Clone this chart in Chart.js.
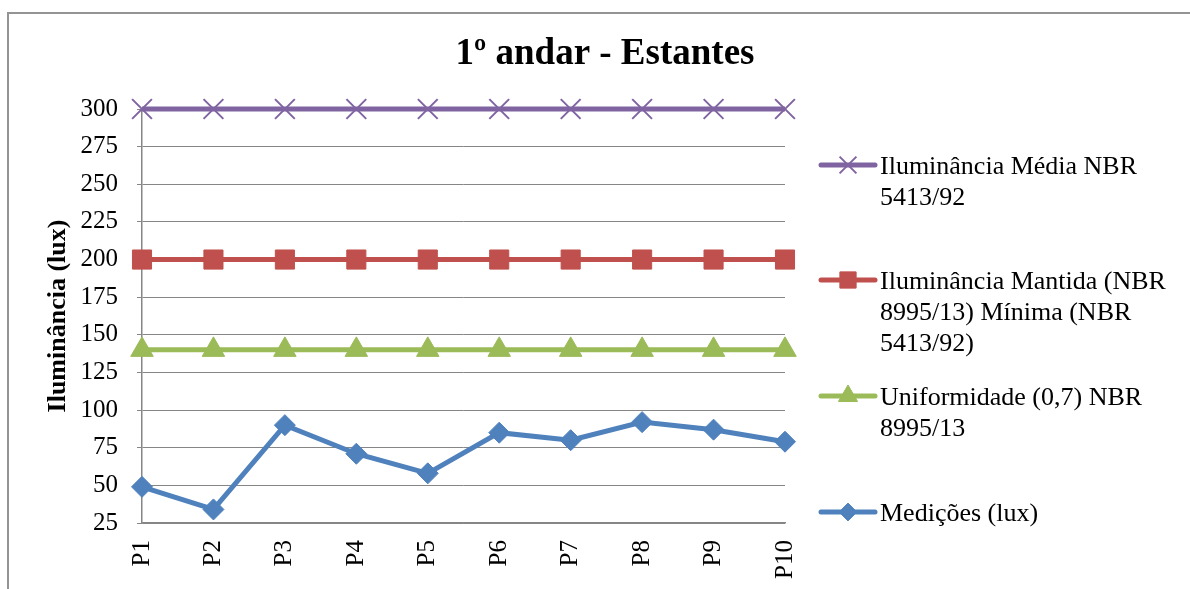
<!DOCTYPE html>
<html>
<head>
<meta charset="utf-8">
<script src="https://cdn.jsdelivr.net/npm/chart.js@4.4.0/dist/chart.umd.min.js"></script>
<style>
  html, body { margin: 0; padding: 0; background: #ffffff; }
  #wrap { position: relative; width: 1190px; height: 589px; overflow: hidden; }
  #frame { position: absolute; left: 7px; top: 12px; width: 1220px; height: 620px;
           border-top: 2px solid #949494; border-left: 2px solid #949494; }
  #c { position: absolute; left: 0; top: 0; }
</style>
</head>
<body>
<div id="wrap">
  <div id="frame"></div>
  <canvas id="c" width="1190" height="589"></canvas>
</div>
<script>
// Measurement points along the shelves
const categories = ['P1', 'P2', 'P3', 'P4', 'P5', 'P6', 'P7', 'P8', 'P9', 'P10'];

// Reference levels (lux)
const mediaNBR     = [300, 300, 300, 300, 300, 300, 300, 300, 300, 300];
const mantidaNBR   = [200, 200, 200, 200, 200, 200, 200, 200, 200, 200];
const uniformidade = [140, 140, 140, 140, 140, 140, 140, 140, 140, 140];

// Measured illuminance (lux)
const medicoes = [49, 34, 90, 71, 58, 85, 80, 92, 87, 79];

const seriesLabels = [
  'Iluminância Média NBR 5413/92',
  'Iluminância Mantida (NBR 8995/13) Mínima (NBR 5413/92)',
  'Uniformidade (0,7) NBR 8995/13',
  'Medições (lux)'
];

const chartTitle = '1º andar - Estantes';
const yAxisTitle = 'Iluminância (lux)';
const yMin = 25, yMax = 300, yStep = 25;

const serif = '"Liberation Serif", "Times New Roman", Times, serif';
Chart.defaults.font.family = serif;
Chart.defaults.color = '#000000';

function series(label, data, color, style, radius, border) {
  return {
    label: label,
    data: data,
    borderColor: color,
    backgroundColor: color,
    borderWidth: 5,
    pointStyle: style,
    pointRadius: radius,
    pointHoverRadius: radius,
    pointBackgroundColor: color,
    pointBorderColor: color,
    pointBorderWidth: border,
    tension: 0,
    clip: false
  };
}

// Legend drawn at the right side with wrapped label text
const sideLegend = {
  id: 'sideLegend',
  afterDraw(chart, args, opts) {
    const ctx = chart.ctx;
    ctx.save();
    chart.data.datasets.forEach((ds, i) => {
      const y = opts.rows[i];
      ctx.strokeStyle = ds.borderColor;
      ctx.lineWidth = ds.borderWidth;
      ctx.lineCap = 'round';
      ctx.beginPath();
      ctx.moveTo(opts.x0, y);
      ctx.lineTo(opts.x1, y);
      ctx.stroke();

      ctx.lineCap = 'butt';
      ctx.fillStyle = ds.pointBackgroundColor;
      ctx.strokeStyle = ds.pointBorderColor;
      ctx.lineWidth = ds.pointBorderWidth;
      Chart.helpers.drawPoint(ctx, {
        pointStyle: ds.pointStyle,
        radius: ds.pointRadius * opts.markerScale,
        borderWidth: ds.pointBorderWidth,
        rotation: 0
      }, (opts.x0 + opts.x1) / 2, y);

      ctx.fillStyle = '#000000';
      ctx.font = opts.fontSize + 'px ' + serif;
      ctx.textAlign = 'left';
      ctx.textBaseline = 'middle';
      const words = ds.label.split(' ');
      const lines = [];
      let cur = '';
      words.forEach(w => {
        const test = cur ? cur + ' ' + w : w;
        if (cur && ctx.measureText(test).width > opts.maxWidth) {
          lines.push(cur);
          cur = w;
        } else {
          cur = test;
        }
      });
      if (cur) lines.push(cur);
      lines.forEach((ln, k) => {
        ctx.fillText(ln, opts.textX, y + opts.textDy + k * opts.lineHeight);
      });
    });
    ctx.restore();
  }
};

new Chart(document.getElementById('c'), {
  type: 'line',
  data: {
    labels: categories,
    datasets: [
      series(seriesLabels[0], mediaNBR, '#8064A2', 'crossRot', 14, 2),
      series(seriesLabels[1], mantidaNBR, '#C0504D', 'rect', 13.5, 1),
      series(seriesLabels[2], uniformidade, '#9BBB59', 'triangle', 13, 1),
      series(seriesLabels[3], medicoes, '#4F81BD', 'rectRot', 10.5, 1)
    ]
  },
  plugins: [sideLegend],
  options: {
    responsive: false,
    animation: false,
    events: [],
    layout: { padding: { left: 30, right: 10, top: 14, bottom: 0 } },
    plugins: {
      legend: { display: false },
      tooltip: { enabled: false },
      title: {
        display: true,
        text: chartTitle,
        color: '#000000',
        font: { size: 37, weight: 'bold', family: serif },
        padding: { top: 18.7, bottom: 31.9 }
      },
      sideLegend: {
        rows: [165, 280, 396, 512],
        x0: 821, x1: 875,
        textX: 880, textDy: 2,
        lineHeight: 31,
        fontSize: 26,
        maxWidth: 300,
        markerScale: 0.85
      }
    },
    scales: {
      x: {
        type: 'category',
        offset: false,
        grid: { display: false, drawTicks: false },
        border: { display: true, color: '#868686', width: 1.5 },
        ticks: {
          autoSkip: false,
          maxRotation: 90,
          minRotation: 90,
          padding: 17,
          color: '#000000',
          font: { size: 25, family: serif }
        },
        afterFit(s) { s.height = 66; }
      },
      y: {
        type: 'linear',
        position: 'left',
        min: yMin,
        max: yMax,
        grid: { color: '#868686', lineWidth: 1, tickLength: 5, drawTicks: true },
        border: { display: true, color: '#868686', width: 1.5 },
        ticks: {
          stepSize: yStep,
          padding: 19,
          color: '#000000',
          font: { size: 25, family: serif }
        },
        title: {
          display: true,
          text: yAxisTitle,
          color: '#000000',
          font: { size: 26, weight: 'bold', family: serif },
          padding: { top: 12.4, bottom: 0 }
        },
        afterFit(s) { s.width = 112; }
      },
      legendSpace: {
        type: 'linear',
        axis: 'y',
        position: 'right',
        display: true,
        grid: { display: false, drawTicks: false },
        border: { display: false },
        ticks: { display: false },
        afterFit(s) { s.width = 395; }
      }
    }
  }
});
</script>
</body>
</html>
